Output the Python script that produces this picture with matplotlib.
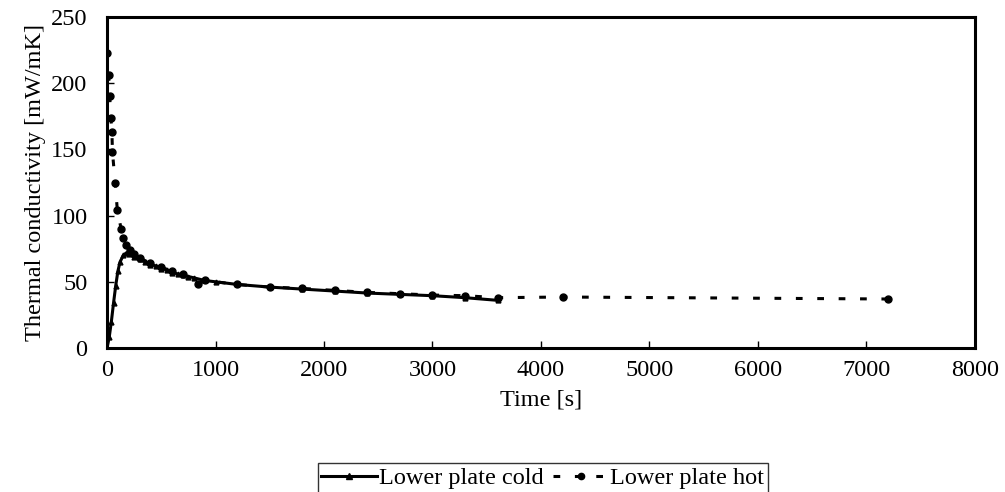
import numpy as np
import matplotlib.pyplot as plt
from matplotlib.lines import Line2D

plt.rcParams['font.family'] = ['Liberation Serif', 'DejaVu Serif']

# Lower plate cold (time [s], conductivity [mW/mK])
t_cold = [0, 20, 40, 60, 80, 100, 120, 150, 180, 200, 250, 300, 350, 400,
          450, 500, 550, 600, 650, 700, 750, 800, 900, 1000, 1200, 1500,
          1800, 2100, 2400, 2700, 3000, 3300, 3600]
k_cold = [0, 8, 20, 34, 47, 58, 65, 70, 72, 71, 69, 67, 65, 63,
          62, 60, 59, 57, 56, 55, 54, 53, 51, 50, 48, 46,
          44.5, 43, 41.5, 40.5, 39.5, 38, 36]

# Lower plate hot
t_hot = [0, 15, 25, 35, 45, 50, 75, 95, 130, 150, 175, 210, 250, 300, 400,
         500, 600, 700, 840, 900, 1200, 1500, 1800, 2100, 2400, 2700, 3000,
         3300, 3600, 4200, 7200]
k_hot = [223, 206, 190, 174, 163, 148, 125, 104, 90, 83, 78, 74, 71, 68, 64,
         61, 58, 56, 48, 51, 48, 46, 45, 43.5, 42, 41, 40,
         39.5, 38, 38.5, 37]

fs = 17.5

fig = plt.figure(figsize=(10.05, 4.92), dpi=100)
ax = fig.add_axes([0.1065, 0.2927, 0.8635, 0.6727])

ax.plot(t_cold, k_cold, color='black', lw=2.2, marker='^', ms=3.5,
        zorder=3)
ax.plot(t_hot, k_hot, color='black', lw=2.2, dashes=(2.2, 4.8),
        marker='o', ms=5, zorder=2)

ax.set_xlim(0, 8000)
ax.set_ylim(0, 250)
ax.set_xticks(np.arange(0, 8001, 1000))
ax.set_yticks(np.arange(0, 251, 50))
ax.tick_params(direction='in', length=5, width=1, labelsize=fs)
ax.tick_params(axis='y', pad=14)
ax.tick_params(axis='x', pad=9)
for s in ax.spines.values():
    s.set_linewidth(2.2)

ax.set_xlabel('Time [s]', fontsize=fs, labelpad=6)
ax.set_ylabel('Thermal conductivity [mW/mK]', fontsize=fs, labelpad=4)

handles = [
    Line2D([], [], color='black', lw=2.2, marker='^', ms=4),
    Line2D([], [], color='black', lw=2.2, dashes=(2.2, 4.8), marker='o', ms=4.5),
]
leg = fig.legend(handles, ['Lower plate cold', 'Lower plate hot'],
                 loc='upper center', bbox_to_anchor=(0.54, 0.058),
                 ncol=2, fontsize=fs, frameon=True, fancybox=False,
                 handlelength=2.3, handletextpad=0.05, columnspacing=0.4,
                 borderpad=0.15, borderaxespad=0)
leg.get_frame().set_edgecolor('black')
leg.get_frame().set_linewidth(1)

fig.savefig('out.png', dpi=100)
